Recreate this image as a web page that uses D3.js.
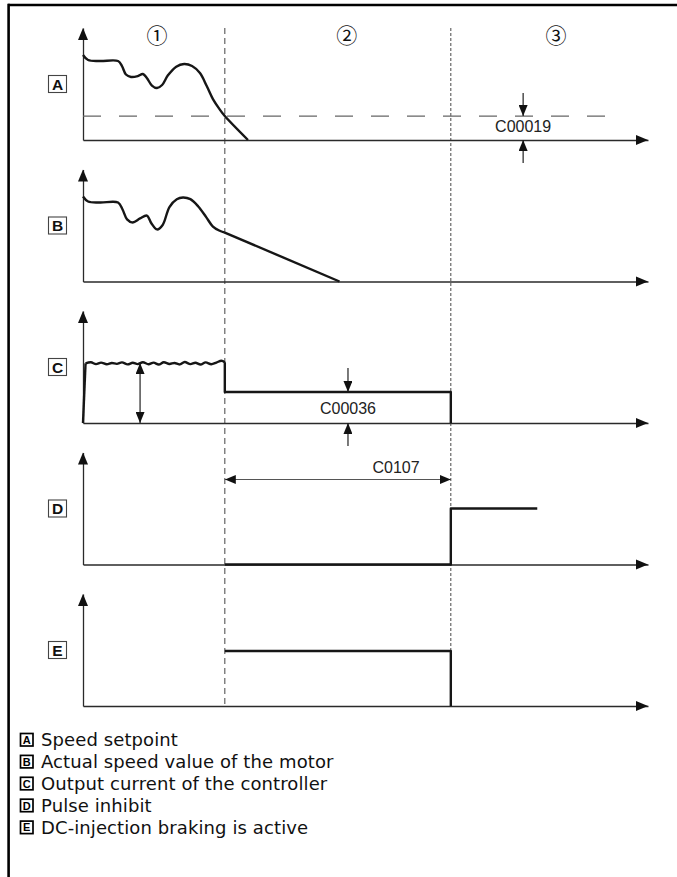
<!DOCTYPE html>
<html><head><meta charset="utf-8">
<script src="https://cdn.jsdelivr.net/npm/d3@7"></script>
<style>
html,body{margin:0;padding:0;background:#fff;}
svg{display:block;}
</style></head>
<body>
<script>
// ---------- DATA ----------
const panelLetters = ["A","B","C","D","E"];
const phaseBoundaries = [25.1, 65.1];          // time units
const phaseLabels = ["①","②","③"];
const phaseLabelT = [13.1, 46.7, 83.7];

// A: speed setpoint  [t, value]
const aCurve = [[0,75.9],[0.9,71.4],[3,70.5],[6.2,70.5],[6.9,66],[7.6,58.5],[8.5,56.3],[9.7,57.1],[10.6,58.9],[11.3,55.4],[12.2,48.6],[13.1,46.4],[14,49.1],[15,57.5],[16.5,65.5],[17.9,67.9],[19.3,66.1],[20.7,59.8],[21.9,48.2],[23,36.5],[24.1,28],[25.1,21.4],[29.2,0]];
const aSetpoint = 21.4;
const aSetpointEnd = 92.4;

// B: actual speed
const bCurve = [[0,75.9],[0.9,71.4],[3,70.5],[6.2,70.5],[7,64.3],[7.8,55.5],[8.8,52.7],[10.1,56.3],[11.3,58.9],[12.1,52],[13.1,46.5],[14.1,50.5],[15.3,66.5],[16.6,73.5],[17.7,75],[19,73.5],[20.4,67],[21.8,57.5],[23,49],[24.1,45.5],[25.1,43.7]];
const bRamp = [[25.1,43.7],[45.4,0]];

// C: output current
const cRise = [[0,0],[0.45,53.2]];
const cWaveT = [0.45,1.4,2.3,3.2,4.2,5.1,6,6.9,7.9,8.8,9.7,10.6,11.6,12.5,13.4,14.3,15.3,16.2,17.1,18,19,19.9,20.8,21.7,22.7,23.6,24.5,25.1];
const cWaveV = [53.2,54.2,52.6,53.9,52.4,53.6,52.8,54.1,52.3,53.8,52.6,54.3,52.5,53.9,52.2,54.2,52.7,53.6,52.3,54.4,52.6,53.8,52.2,54.1,52.5,53.9,55.6,54.2];
const cStep = [[25.1,54.2],[25.1,27.7],[65.1,27.7],[65.1,0]];

// D: pulse inhibit
const dStep = [[25.1,0],[65.1,0],[65.1,50],[80.4,50]];

// E: DC-injection braking
const eStep = [[25.1,49.1],[65.1,49.1],[65.1,0]];

// Annotations
const c00019 = {t:77.9, label:"C00019", textV:7.1, downFrom:42, downTo:21.4, upFrom:-20.5, upTo:0};
const c00036 = {t:46.9, label:"C00036", textV:8, downFrom:49, downTo:27.7, upFrom:-20.5, upTo:0};
const cSpan = {t:10.1, from:0, to:53.6};
const c0107 = {t0:25.1, t1:65.1, v:75.9, label:"C0107", textT:55.4, textV:81.3};

const legendItems = [
  ["A","Speed setpoint"],
  ["B","Actual speed value of the motor"],
  ["C","Output current of the controller"],
  ["D","Pulse inhibit"],
  ["E","DC-injection braking is active"]
];

// ---------- LAYOUT ----------
const W = 677, H = 877;
const svg = d3.select("body").append("svg").attr("width", W).attr("height", H);

const defs = svg.append("defs");
defs.append("marker").attr("id","arr").attr("viewBox","0 0 11 9")
  .attr("refX",11).attr("refY",4.5).attr("markerWidth",11).attr("markerHeight",9)
  .attr("markerUnits","userSpaceOnUse").attr("orient","auto-start-reverse")
  .append("path").attr("d","M0,0L11,4.5L0,9Z").attr("fill","#111");

// frame
svg.append("line").attr("x1",8).attr("x2",W).attr("y1",5).attr("y2",5).attr("stroke","#000").attr("stroke-width",2.6);
svg.append("line").attr("x1",8.6).attr("x2",8.6).attr("y1",3.7).attr("y2",H).attr("stroke","#000").attr("stroke-width",2.6);

const x = d3.scaleLinear().domain([0,100]).range([83,648]);
const panelTop0 = 28, panelStep = 141.5, panelH = 112;
const ys = panelLetters.map((_,i)=>{
  const top = panelTop0 + i*panelStep;
  return d3.scaleLinear().domain([0,100]).range([top+panelH, top]);
});

const sigColor = "#161616", sigW = 2.4;
const line = (y, curve) => d3.line().x(d=>x(d[0])).y(d=>y(d[1])).curve(curve || d3.curveLinear);

// phase dashed lines
const yTopAll = ys[0](100), yBotAll = ys[4](0);
svg.append("line").attr("x1",x(phaseBoundaries[0])).attr("x2",x(phaseBoundaries[0]))
  .attr("y1",yTopAll).attr("y2",yBotAll).attr("stroke","#555").attr("stroke-width",1.1).attr("stroke-dasharray","6,4");
svg.append("line").attr("x1",x(phaseBoundaries[1])).attr("x2",x(phaseBoundaries[1]))
  .attr("y1",yTopAll).attr("y2",yBotAll).attr("stroke","#333").attr("stroke-width",0.9).attr("stroke-dasharray","3,2");

// phase labels
phaseLabels.forEach((s,i)=>{
  svg.append("text").attr("x",x(phaseLabelT[i])).attr("y",43).attr("text-anchor","middle")
    .attr("font-family","'Noto Sans CJK JP', 'DejaVu Sans'").attr("font-size",21).attr("fill","#111").text(s);
});

// axes + labels per panel
ys.forEach((y,i)=>{
  const g = svg.append("g");
  const xa = g.append("g").attr("transform",`translate(0,${y(0)})`)
    .call(d3.axisBottom(x).tickValues([]).tickSizeOuter(0));
  xa.select(".domain").attr("stroke","#2a2a2a").attr("stroke-width",1.3);
  const ya = g.append("g").attr("transform",`translate(${x(0)},0)`)
    .call(d3.axisLeft(y).tickValues([]).tickSizeOuter(0));
  ya.select(".domain").attr("stroke","#2a2a2a").attr("stroke-width",1.3);
  // arrow heads
  g.append("path").attr("d",`M${x(100)},${y(0)}l-12,-5v10z`).attr("fill","#111");
  g.append("path").attr("d",`M${x(0)},${y(100)}l-5,12h10z`).attr("fill","#111");
  // label box
  const cy = y(0) - 56;
  g.append("rect").attr("x",48.5).attr("y",cy-8.5).attr("width",18).attr("height",17)
    .attr("fill","#fff").attr("stroke","#444").attr("stroke-width",1.1);
  g.append("text").attr("x",57.5).attr("y",cy+5.5).attr("text-anchor","middle")
    .attr("font-family","Liberation Sans, Arial").attr("font-weight","bold").attr("font-size",15.5)
    .attr("fill","#111").text(panelLetters[i]);
});

function sig(data, y, curve){
  svg.append("path").attr("d",line(y,curve)(data)).attr("fill","none")
    .attr("stroke",sigColor).attr("stroke-width",sigW).attr("stroke-linejoin","round");
}
function arrow(x1,y1,x2,y2,both,color){
  const l = svg.append("line").attr("x1",x1).attr("y1",y1).attr("x2",x2).attr("y2",y2)
    .attr("stroke",color||"#222").attr("stroke-width",1.2).attr("marker-end","url(#arr)");
  if(both) l.attr("marker-start","url(#arr)");
}
function label(tx,ty,s){
  svg.append("text").attr("x",tx).attr("y",ty).attr("text-anchor","middle")
    .attr("font-family","Liberation Sans, Arial").attr("font-size",16).attr("fill","#222").text(s);
}

// A
const yA = ys[0];
svg.append("line").attr("x1",x(0)).attr("x2",x(aSetpointEnd)).attr("y1",yA(aSetpoint)).attr("y2",yA(aSetpoint))
  .attr("stroke","#666").attr("stroke-width",1.3).attr("stroke-dasharray","18,18");
sig(aCurve, yA, d3.curveCatmullRom);
arrow(x(c00019.t),yA(c00019.downFrom),x(c00019.t),yA(c00019.downTo));
arrow(x(c00019.t),yA(c00019.upFrom),x(c00019.t),yA(c00019.upTo));
label(x(c00019.t), yA(c00019.textV), c00019.label);

// B
const yB = ys[1];
sig(bCurve, yB, d3.curveCatmullRom);
sig(bRamp, yB);

// C
const yC = ys[2];
sig(cRise, yC);
sig(cWaveT.map((t,i)=>[t,cWaveV[i]]), yC, d3.curveCatmullRom);
sig(cStep, yC);
arrow(x(cSpan.t), yC(cSpan.from), x(cSpan.t), yC(cSpan.to), true);
arrow(x(c00036.t),yC(c00036.downFrom),x(c00036.t),yC(c00036.downTo));
arrow(x(c00036.t),yC(c00036.upFrom),x(c00036.t),yC(c00036.upTo));
label(x(c00036.t), yC(c00036.textV), c00036.label);

// D
const yD = ys[3];
sig(dStep, yD);
arrow(x(c0107.t0), yD(c0107.v), x(c0107.t1), yD(c0107.v), true, "#555");
label(x(c0107.textT), yD(c0107.textV), c0107.label);

// E
const yE = ys[4];
sig(eStep, yE);

// legend
const lg = svg.append("g");
legendItems.forEach((d,i)=>{
  const by = 746 + i*21.9;
  lg.append("rect").attr("x",20.5).attr("y",by-12.5).attr("width",12.5).attr("height",12.5)
    .attr("fill","#fff").attr("stroke","#000").attr("stroke-width",1.7);
  lg.append("text").attr("x",26.75).attr("y",by-2.2).attr("text-anchor","middle")
    .attr("font-family","Liberation Sans, Arial").attr("font-weight","bold").attr("font-size",11)
    .attr("fill","#000").text(d[0]);
  lg.append("text").attr("x",41).attr("y",by).attr("font-family","'DejaVu Sans'")
    .attr("font-size",18).attr("letter-spacing",0.1).attr("fill","#111").text(d[1]);
});
</script>
</body></html>
